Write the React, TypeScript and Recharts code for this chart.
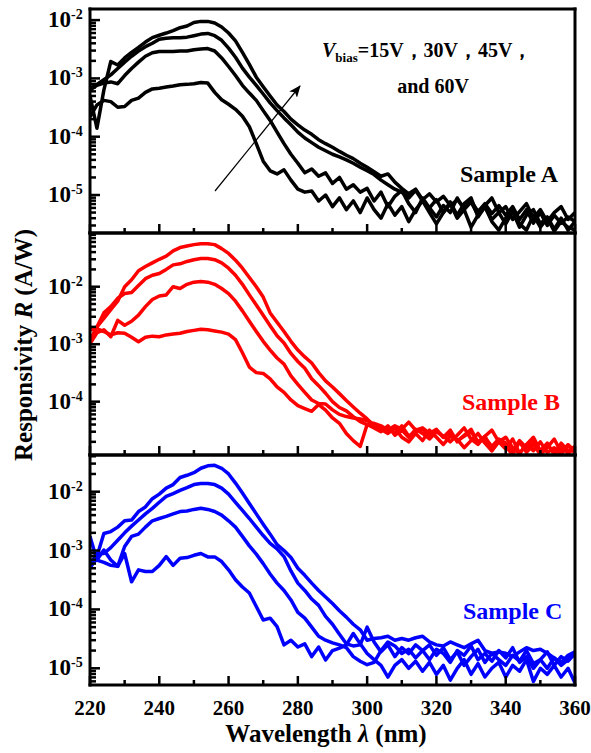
import { Line, LineChart, XAxis, YAxis } from 'recharts';

const FONT = '"Liberation Serif", "Times New Roman", serif';

// wavelength (nm), one point every 2 nm
const wavelength = [
  220, 222, 224, 226, 228, 230, 232, 234, 236, 238,
  240, 242, 244, 246, 248, 250, 252, 254, 256, 258,
  260, 262, 264, 266, 268, 270, 272, 274, 276, 278,
  280, 282, 284, 286, 288, 290, 292, 294, 296, 298,
  300, 302, 304, 306, 308, 310, 312, 314, 316, 318,
  320, 322, 324, 326, 328, 330, 332, 334, 336, 338,
  340, 342, 344, 346, 348, 350, 352, 354, 356, 358,
  360,
];

const xTicks = [220, 230, 240, 250, 260, 270, 280, 290, 300, 310, 320, 330, 340, 350, 360];
const minorMultipliers = [2, 3, 4, 5, 6, 7, 8, 9];

// Sample A (A/W)
const a15 = [
  2.2e-4, 3.5e-4, 4.2e-4, 4.0e-4, 3.2e-4, 3.3e-4, 4.2e-4, 4.6e-4, 5.75e-4, 6.6e-4,
  6.8e-4, 7.1e-4, 7.4e-4, 7.8e-4, 7.9e-4, 8.1e-4, 8.5e-4, 8.3e-4, 5.75e-4, 4.3e-4,
  3.6e-4, 2.95e-4, 2.24e-4, 1.48e-4, 7.6e-5, 3.8e-5, 2.6e-5, 2.3e-5, 2.7e-5, 1.8e-5,
  1.26e-5, 1.12e-5, 1.17e-5, 7.9e-6, 1.0e-5, 6.3e-6, 8.9e-6, 5.6e-6, 7.9e-6, 5.0e-6,
  8.9e-6, 5.6e-6, 4.0e-6, 7.1e-6, 4.5e-6, 6.3e-6, 3.5e-6, 5.6e-6, 7.9e-6, 5.0e-6,
  3.2e-6, 5.0e-6, 7.1e-6, 4.0e-6, 5.6e-6, 2.8e-6, 4.5e-6, 6.3e-6, 3.5e-6, 2.5e-6,
  4.0e-6, 5.6e-6, 3.2e-6, 2.5e-6, 4.5e-6, 2.8e-6, 4.0e-6, 2.4e-6, 3.5e-6, 2.8e-6,
  2.5e-6,
];
const a30 = [
  6.3e-4, 7.6e-4, 8.3e-4, 8.7e-4, 8.1e-4, 1.12e-3, 1.48e-3, 1.9e-3, 2.4e-3, 2.75e-3,
  2.9e-3, 2.9e-3, 2.9e-3, 2.95e-3, 2.95e-3, 3.1e-3, 3.2e-3, 3.25e-3, 2.95e-3, 2.24e-3,
  1.6e-3, 1.12e-3, 7.6e-4, 5.6e-4, 4.2e-4, 2.8e-4, 1.9e-4, 1.2e-4, 7.6e-5, 5.0e-5,
  3.5e-5, 2.4e-5, 2.8e-5, 2.1e-5, 2.4e-5, 1.58e-5, 2.0e-5, 1.26e-5, 1.5e-5, 1.12e-5,
  1.3e-5, 7.9e-6, 1.12e-5, 6.3e-6, 9.5e-6, 1.2e-5, 7.1e-6, 5.0e-6, 8.9e-6, 6.0e-6,
  4.2e-6, 6.6e-6, 5.0e-6, 8.9e-6, 5.6e-6, 7.6e-6, 4.5e-6, 6.6e-6, 8.9e-6, 5.0e-6,
  6.3e-6, 3.8e-6, 5.2e-6, 7.1e-6, 4.0e-6, 5.6e-6, 3.5e-6, 5.0e-6, 6.3e-6, 3.8e-6,
  5.0e-6,
];
const a45 = [
  6.8e-4, 7.9e-4, 9.5e-4, 1.15e-3, 1.48e-3, 1.9e-3, 2.4e-3, 2.95e-3, 3.5e-3, 4.0e-3,
  4.7e-3, 4.9e-3, 5.0e-3, 5.0e-3, 5.1e-3, 5.4e-3, 5.75e-3, 5.9e-3, 5.4e-3, 4.5e-3,
  3.3e-3, 2.3e-3, 1.5e-3, 1.05e-3, 7.6e-4, 5.4e-4, 3.8e-4, 2.8e-4, 2.1e-4, 1.6e-4,
  1.2e-4, 9.5e-5, 7.9e-5, 6.6e-5, 5.75e-5, 5.0e-5, 4.5e-5, 4.0e-5, 3.5e-5, 3.0e-5,
  2.6e-5, 2.24e-5, 1.8e-5, 1.5e-5, 1.26e-5, 1.12e-5, 8.9e-6, 1.2e-5, 7.9e-6, 6.0e-6,
  8.3e-6, 5.0e-6, 7.6e-6, 4.5e-6, 7.1e-6, 8.9e-6, 4.2e-6, 6.3e-6, 3.8e-6, 5.0e-6,
  3.2e-6, 5.2e-6, 2.8e-6, 4.5e-6, 5.6e-6, 3.2e-6, 4.2e-6, 2.6e-6, 4.0e-6, 2.5e-6,
  3.5e-6,
];
const a60 = [
  5.0e-4, 1.4e-4, 6.3e-4, 1.95e-3, 1.7e-3, 2.24e-3, 2.8e-3, 3.4e-3, 4.2e-3, 5.0e-3,
  5.5e-3, 6.0e-3, 6.6e-3, 7.4e-3, 7.9e-3, 9.1e-3, 9.5e-3, 9.5e-3, 8.9e-3, 7.6e-3,
  6.0e-3, 4.4e-3, 2.8e-3, 1.74e-3, 1.05e-3, 7.2e-4, 5.0e-4, 3.5e-4, 2.7e-4, 2.0e-4,
  1.6e-4, 1.3e-4, 1.1e-4, 8.9e-5, 7.6e-5, 6.6e-5, 5.6e-5, 4.8e-5, 4.2e-5, 3.5e-5,
  3.0e-5, 2.5e-5, 2.1e-5, 2.3e-5, 1.66e-5, 1.3e-5, 1.05e-5, 1.26e-5, 8.3e-6, 1.05e-5,
  7.6e-6, 9.5e-6, 6.6e-6, 8.3e-6, 6.0e-6, 7.9e-6, 5.2e-6, 7.1e-6, 4.8e-6, 6.6e-6,
  4.5e-6, 6.3e-6, 3.8e-6, 5.6e-6, 3.3e-6, 5.0e-6, 3.0e-6, 4.5e-6, 3.3e-6, 4.2e-6,
  3.5e-6,
];

// Sample B (A/W)
const b15 = [
  1.78e-3, 1.86e-3, 1.66e-3, 1.45e-3, 1.58e-3, 1.55e-3, 1.32e-3, 1.1e-3, 1.32e-3, 1.38e-3,
  1.35e-3, 1.45e-3, 1.5e-3, 1.55e-3, 1.66e-3, 1.74e-3, 1.82e-3, 1.78e-3, 1.7e-3, 1.62e-3,
  1.5e-3, 1.2e-3, 7.1e-4, 4.0e-4, 3.2e-4, 3.1e-4, 2.5e-4, 1.8e-4, 1.45e-4, 1.07e-4,
  8.5e-5, 7.6e-5, 6.8e-5, 8.9e-5, 7.1e-5, 5.2e-5, 4.2e-5, 2.8e-5, 2.1e-5, 1.66e-5,
  4.0e-5, 4.2e-5, 3.8e-5, 3.2e-5, 3.8e-5, 3.3e-5, 4.4e-5, 3.2e-5, 3.5e-5, 2.8e-5,
  3.3e-5, 2.4e-5, 3.2e-5, 2.0e-5, 2.6e-5, 3.3e-5, 1.9e-5, 2.5e-5, 1.4e-5, 2.1e-5,
  1.66e-5, 1.2e-5, 2.0e-5, 1.32e-5, 1.78e-5, 1.2e-5, 1.58e-5, 2.24e-5, 1.32e-5, 1.78e-5,
  1.26e-5,
];
const b30 = [
  1.02e-3, 1.58e-3, 1.78e-3, 1.35e-3, 2.6e-3, 2.14e-3, 2.5e-3, 3.2e-3, 4.5e-3, 6.0e-3,
  6.9e-3, 7.2e-3, 1.0e-2, 9.3e-3, 1.1e-2, 1.2e-2, 1.23e-2, 1.2e-2, 1.1e-2, 9.3e-3,
  7.6e-3, 5.6e-3, 3.8e-3, 2.5e-3, 1.66e-3, 1.12e-3, 7.9e-4, 5.75e-4, 4.5e-4, 2.8e-4,
  2.0e-4, 1.45e-4, 1.07e-4, 9.3e-5, 9.1e-5, 7.2e-5, 6.0e-5, 5.5e-5, 5.2e-5, 5.0e-5,
  4.7e-5, 4.0e-5, 3.3e-5, 2.8e-5, 3.5e-5, 2.4e-5, 2.0e-5, 2.8e-5, 2.1e-5, 3.2e-5,
  2.4e-5, 1.8e-5, 2.5e-5, 2.2e-5, 1.58e-5, 2.1e-5, 2.8e-5, 1.9e-5, 1.4e-5, 2.0e-5,
  2.4e-5, 1.58e-5, 1.26e-5, 1.78e-5, 1.4e-5, 2.0e-5, 1.3e-5, 1.58e-5, 1.2e-5, 1.78e-5,
  1.4e-5,
];
const b45 = [
  1.12e-3, 2.0e-3, 3.5e-3, 4.5e-3, 6.3e-3, 7.6e-3, 7.9e-3, 1.05e-2, 1.38e-2, 1.58e-2,
  1.7e-2, 2.0e-2, 2.4e-2, 2.5e-2, 2.75e-2, 2.95e-2, 3.1e-2, 3.1e-2, 2.95e-2, 2.6e-2,
  2.1e-2, 1.58e-2, 1.1e-2, 7.2e-3, 4.8e-3, 3.2e-3, 2.1e-3, 1.4e-3, 1.05e-3, 6.9e-4,
  5.0e-4, 3.8e-4, 2.5e-4, 1.9e-4, 1.4e-4, 1.0e-4, 7.9e-5, 6.9e-5, 5.5e-5, 4.5e-5,
  4.0e-5, 3.5e-5, 3.0e-5, 3.8e-5, 2.6e-5, 3.2e-5, 2.4e-5, 3.3e-5, 2.8e-5, 2.24e-5,
  3.0e-5, 2.5e-5, 2.0e-5, 2.6e-5, 3.5e-5, 2.24e-5, 1.8e-5, 2.5e-5, 3.2e-5, 2.0e-5,
  1.5e-5, 2.24e-5, 1.26e-5, 1.8e-5, 2.4e-5, 1.4e-5, 1.9e-5, 1.2e-5, 1.66e-5, 1.26e-5,
  1.58e-5,
];
const b60 = [
  1.17e-3, 2.0e-3, 2.8e-3, 4.0e-3, 5.6e-3, 1.0e-2, 1.32e-2, 1.9e-2, 2.24e-2, 2.6e-2,
  3.0e-2, 3.4e-2, 4.2e-2, 4.8e-2, 5.1e-2, 5.4e-2, 5.6e-2, 5.6e-2, 5.4e-2, 4.6e-2,
  3.8e-2, 2.9e-2, 2.1e-2, 1.45e-2, 1.0e-2, 6.6e-3, 3.5e-3, 2.4e-3, 1.66e-3, 1.12e-3,
  7.9e-4, 6.0e-4, 4.7e-4, 3.2e-4, 2.3e-4, 1.8e-4, 1.38e-4, 1.05e-4, 8.1e-5, 6.3e-5,
  5.0e-5, 3.8e-5, 3.2e-5, 3.5e-5, 2.8e-5, 3.8e-5, 2.5e-5, 3.0e-5, 3.3e-5, 2.6e-5,
  3.2e-5, 2.4e-5, 2.8e-5, 2.1e-5, 2.5e-5, 3.0e-5, 2.0e-5, 2.4e-5, 1.66e-5, 2.24e-5,
  1.9e-5, 1.4e-5, 2.1e-5, 1.58e-5, 2.0e-5, 1.32e-5, 1.8e-5, 1.26e-5, 1.9e-5, 1.4e-5,
  1.66e-5,
];

// Sample C (A/W)
const c15 = [
  1.74e-3, 6.9e-4, 1.02e-3, 6.9e-4, 5.4e-4, 8.9e-4, 2.95e-4, 4.7e-4, 4.4e-4, 4.4e-4,
  5.6e-4, 7.9e-4, 5.6e-4, 7.4e-4, 7.6e-4, 8.3e-4, 8.9e-4, 7.8e-4, 7.8e-4, 6.5e-4,
  4.7e-4, 3.2e-4, 2.4e-4, 1.9e-4, 1.12e-4, 6.6e-5, 7.1e-5, 5.1e-5, 2.5e-5, 3.0e-5,
  2.3e-5, 2.6e-5, 1.58e-5, 2.3e-5, 1.38e-5, 2.0e-5, 2.2e-5, 2.5e-5, 3.9e-5, 2.6e-5,
  1.78e-5, 1.4e-5, 1.12e-5, 7.1e-6, 1.12e-5, 1.4e-5, 1.0e-5, 1.32e-5, 8.9e-6, 1.26e-5,
  7.9e-6, 1.12e-5, 6.3e-6, 1.0e-5, 1.4e-5, 7.9e-6, 1.2e-5, 7.1e-6, 1.0e-5, 1.26e-5,
  7.1e-6, 1.12e-5, 8.9e-6, 1.4e-5, 6.0e-6, 1.0e-5, 7.9e-6, 1.12e-5, 7.1e-6, 1.0e-5,
  5.6e-6,
];
const c30 = [
  6.0e-4, 6.9e-4, 6.3e-4, 5.6e-4, 5.4e-4, 1.17e-3, 1.74e-3, 1.9e-3, 2.5e-3, 3.2e-3,
  3.5e-3, 3.8e-3, 4.2e-3, 4.6e-3, 4.7e-3, 5.0e-3, 5.25e-3, 5.0e-3, 4.6e-3, 4.0e-3,
  3.2e-3, 2.5e-3, 1.74e-3, 1.2e-3, 8.7e-4, 6.0e-4, 4.0e-4, 2.8e-4, 2.1e-4, 1.45e-4,
  8.9e-5, 7.1e-5, 5.0e-5, 3.5e-5, 3.0e-5, 2.7e-5, 2.5e-5, 2.24e-5, 1.58e-5, 1.32e-5,
  1.15e-5, 1.26e-5, 2.0e-5, 2.8e-5, 2.4e-5, 1.78e-5, 2.1e-5, 1.5e-5, 2.0e-5, 2.5e-5,
  1.66e-5, 2.24e-5, 1.4e-5, 1.9e-5, 1.12e-5, 1.58e-5, 2.1e-5, 1.26e-5, 1.78e-5, 1.4e-5,
  1.12e-5, 1.66e-5, 1.32e-5, 2.0e-5, 1.2e-5, 1.4e-5, 1.0e-5, 1.5e-5, 1.12e-5, 1.4e-5,
  1.9e-5,
];
const c45 = [
  5.6e-4, 8.9e-4, 8.9e-4, 1.12e-3, 1.5e-3, 2.0e-3, 2.6e-3, 3.3e-3, 4.2e-3, 5.2e-3,
  6.6e-3, 8.3e-3, 9.3e-3, 1.05e-2, 1.17e-2, 1.32e-2, 1.38e-2, 1.38e-2, 1.32e-2, 1.15e-2,
  9.1e-3, 6.6e-3, 4.8e-3, 3.5e-3, 2.5e-3, 1.8e-3, 1.32e-3, 1.07e-3, 7.9e-4, 4.5e-4,
  2.8e-4, 2.1e-4, 1.5e-4, 1.17e-4, 7.6e-5, 5.6e-5, 3.8e-5, 2.6e-5, 2.4e-5, 2.5e-5,
  5.0e-5, 2.8e-5, 1.9e-5, 2.5e-5, 1.58e-5, 2.24e-5, 1.78e-5, 2.5e-5, 2.0e-5, 1.4e-5,
  2.1e-5, 1.78e-5, 1.26e-5, 2.0e-5, 1.66e-5, 2.4e-5, 1.4e-5, 1.78e-5, 1.32e-5, 2.0e-5,
  1.5e-5, 2.24e-5, 1.26e-5, 1.58e-5, 1.0e-5, 1.4e-5, 1.9e-5, 1.12e-5, 1.58e-5, 1.32e-5,
  1.78e-5,
];
const c60 = [
  5.0e-4, 7.9e-4, 1.95e-3, 2.1e-3, 2.5e-3, 3.2e-3, 3.3e-3, 4.6e-3, 5.5e-3, 7.6e-3,
  9.1e-3, 1.15e-2, 1.32e-2, 1.74e-2, 1.9e-2, 2.1e-2, 2.5e-2, 2.75e-2, 2.8e-2, 2.5e-2,
  2.0e-2, 1.4e-2, 9.5e-3, 6.3e-3, 4.2e-3, 2.8e-3, 1.9e-3, 1.26e-3, 1.0e-3, 7.6e-4,
  5.0e-4, 3.8e-4, 2.8e-4, 2.1e-4, 1.62e-4, 1.26e-4, 9.5e-5, 7.4e-5, 5.6e-5, 4.5e-5,
  3.0e-5, 3.2e-5, 3.3e-5, 3.5e-5, 3.0e-5, 3.2e-5, 3.0e-5, 3.3e-5, 3.5e-5, 2.8e-5,
  2.5e-5, 2.4e-5, 2.8e-5, 2.5e-5, 2.24e-5, 2.6e-5, 3.0e-5, 2.0e-5, 1.8e-5, 1.9e-5,
  1.8e-5, 1.58e-5, 1.9e-5, 2.24e-5, 2.0e-5, 2.1e-5, 1.8e-5, 1.5e-5, 1.26e-5, 1.66e-5,
  1.9e-5,
];

type Panel = {
  top: number;
  plotHeight: number;
  color: string;
  domain: [number, number];
  decades: number[];
  labelled: number[];
  series: number[][];
  bottomLabels: boolean;
};

const panels: Panel[] = [
  { top: 9, plotHeight: 224, color: '#000000', domain: [2.23e-6, 1.55e-2], decades: [1e-6, 1e-5, 1e-4, 1e-3, 1e-2], labelled: [-2, -3, -4, -5], series: [a15, a30, a45, a60], bottomLabels: false },
  { top: 233, plotHeight: 222, color: '#ff0000', domain: [1.18e-5, 8.6e-2], decades: [1e-5, 1e-4, 1e-3, 1e-2], labelled: [-2, -3, -4], series: [b15, b30, b45, b60], bottomLabels: false },
  { top: 455, plotHeight: 230, color: '#0000ff', domain: [5.2e-6, 4.2e-2], decades: [1e-6, 1e-5, 1e-4, 1e-3, 1e-2], labelled: [-2, -3, -4, -5], series: [c15, c30, c45, c60], bottomLabels: true },
];

const seriesKeys = ['v15', 'v30', 'v45', 'v60'];

function logTicks(decades: number[], domain: [number, number]) {
  const out: number[] = [];
  decades.forEach((d) => {
    [1, ...minorMultipliers].forEach((m) => {
      const v = m * d;
      if (v >= domain[0] && v <= domain[1]) out.push(v);
    });
  });
  return out;
}

function XTick(props: any) {
  const { x, y, payload, showLabel } = props;
  const v = payload.value;
  const major = v % 20 === 0;
  return (
    <g>
      <line x1={x} x2={x} y1={y} y2={y - (major ? 9 : 5)} stroke="#000" strokeWidth={2.5} />
      {showLabel && major && (
        <text x={x} y={y + 30} textAnchor="middle" fontFamily={FONT} fontWeight="bold" fontSize={21} fill="#000">
          {v}
        </text>
      )}
    </g>
  );
}

function YTick(props: any) {
  const { x, y, payload, labelled } = props;
  const lg = Math.log10(payload.value);
  const e = Math.round(lg);
  const major = Math.abs(lg - e) < 1e-6;
  return (
    <g>
      <line x1={x} x2={x + (major ? 10 : 6)} y1={y} y2={y} stroke="#000" strokeWidth={2.5} />
      {major && labelled.includes(e) && (
        <g fontFamily={FONT} fontWeight="bold" fill="#000">
          <text x={x - 19} y={y + 7} textAnchor="end" fontSize={23}>10</text>
          <text x={x - 19} y={y - 1} fontSize={14}>{`-${Math.abs(e)}`}</text>
        </g>
      )}
    </g>
  );
}

function PanelChart({ panel }: { panel: Panel }) {
  const data = wavelength.map((nm, i) => {
    const row: Record<string, number> = { nm };
    seriesKeys.forEach((k, j) => {
      row[k] = panel.series[j][i];
    });
    return row;
  });
  const padTop = 6;
  const padBottom = panel.bottomLabels ? 45 : 6;
  const frame = { stroke: '#000', strokeWidth: 3, strokeLinecap: 'square' as const };
  return (
    <div style={{ position: 'absolute', left: 0, top: panel.top - padTop }}>
      <LineChart
        width={591}
        height={panel.plotHeight + padTop + padBottom}
        data={data}
        margin={{ top: padTop - 1, right: 15, bottom: padBottom - 1, left: 0 }}
      >
        <XAxis
          dataKey="nm"
          type="number"
          domain={[220, 360]}
          ticks={xTicks}
          interval={0}
          height={1}
          tickSize={0}
          tickMargin={0}
          tickLine={false}
          axisLine={frame}
          allowDataOverflow
          tick={(p: any) => <XTick {...p} showLabel={panel.bottomLabels} />}
        />
        <XAxis xAxisId="top" orientation="top" dataKey="nm" type="number" domain={[220, 360]} height={1} tick={false} tickLine={false} axisLine={frame} />
        <YAxis
          scale="log"
          type="number"
          domain={panel.domain}
          ticks={logTicks(panel.decades, panel.domain)}
          interval={0}
          width={90}
          tickSize={0}
          tickMargin={0}
          tickLine={false}
          axisLine={frame}
          allowDataOverflow
          tick={(p: any) => <YTick {...p} labelled={panel.labelled} />}
        />
        <YAxis yAxisId="right" orientation="right" scale="log" type="number" domain={panel.domain} width={1} tick={false} tickLine={false} axisLine={frame} allowDataOverflow />
        {seriesKeys.map((k) => (
          <Line
            key={k}
            type="linear"
            dataKey={k}
            stroke={panel.color}
            strokeWidth={3.5}
            strokeLinejoin="round"
            dot={false}
            activeDot={false}
            isAnimationActive={false}
          />
        ))}
      </LineChart>
    </div>
  );
}

export default function App() {
  return (
    <div style={{ position: 'absolute', left: 0, top: 0, width: 591, height: 753, background: '#fff' }}>
      {panels.map((p, i) => (
        <PanelChart key={i} panel={p} />
      ))}
      <svg width={591} height={753} style={{ position: 'absolute', left: 0, top: 0, pointerEvents: 'none' }}>
        <defs>
          <marker id="arrowHead" markerWidth="12" markerHeight="10" refX="11" refY="5" orient="auto" markerUnits="userSpaceOnUse">
            <path d="M0,0 L12,5 L0,10 L3,5 Z" fill="#000" />
          </marker>
        </defs>
        <line x1={215} y1={191} x2={300} y2={86} stroke="#000" strokeWidth={1.2} markerEnd="url(#arrowHead)" />
        <g fontFamily={FONT} fontWeight="bold" fill="#000">
          <text x={322} y={57} fontSize={20}>
            <tspan fontStyle="italic">V</tspan>
            <tspan fontSize={13} dy={5}>bias</tspan>
            <tspan dy={-5}>=15V，30V，45V，</tspan>
          </text>
          <text x={433} y={93} fontSize={20} textAnchor="middle">and 60V</text>
          <text x={460} y={182} fontSize={24}>Sample A</text>
          <text x={462} y={410} fontSize={24} fill="#ff0000">Sample B</text>
          <text x={463} y={619} fontSize={24} fill="#0000ff">Sample C</text>
          <text x={326} y={742} fontSize={25} textAnchor="middle">
            Wavelength <tspan fontStyle="italic">λ</tspan> (nm)
          </text>
          <text x={32} y={345} fontSize={25} textAnchor="middle" transform="rotate(-90, 32, 345)">
            Responsivity <tspan fontStyle="italic">R</tspan> (A/W)
          </text>
        </g>
      </svg>
    </div>
  );
}
